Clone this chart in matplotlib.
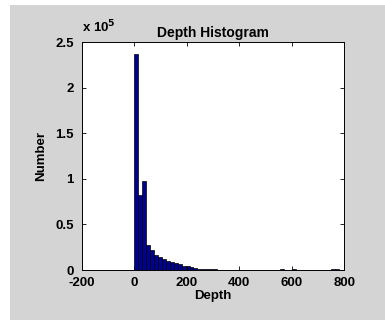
import numpy as np
import matplotlib
matplotlib.use("Agg")
import matplotlib.pyplot as plt
from matplotlib.patches import Rectangle

# histogram data (bin width 15 m)
bin_width = 15
bin_left = np.arange(0, 795, bin_width)
counts = [237000, 82000, 98000, 28000, 22000, 17000, 14000, 12000, 10000, 9000,
          7500, 6500, 5000, 4000, 3000, 2200, 1600, 1200, 900, 700,
          1100, 600, 500, 400, 350, 300, 300, 250, 250, 200,
          200, 200, 200, 200, 250, 300, 400, 900, 500, 400,
          1000, 500, 300, 200, 200, 200, 150, 150, 300, 200,
          700, 800, 300]

plt.rcParams['font.family'] = ['Liberation Sans', 'DejaVu Sans']
plt.rcParams['font.weight'] = 'bold'
plt.rcParams['axes.unicode_minus'] = False

fig = plt.figure(figsize=(3.85, 3.2), dpi=100)
fig.patch.set_facecolor('white')
# grey panel like the matlab figure window
fig.patches.append(Rectangle((0.026, 0.0), 0.974, 0.985, transform=fig.transFigure,
                             facecolor='#d4d4d4', edgecolor='none', zorder=-1))

ax = fig.add_axes([0.213, 0.156, 0.681, 0.7125])
ax.bar(bin_left, counts, width=bin_width, align='edge',
       color='#00008f', edgecolor='black', linewidth=0.5)

ax.set_xlim(-200, 800)
ax.set_ylim(0, 250000)
ax.set_xticks([-200, 0, 200, 400, 600, 800])
ax.set_yticks([0, 50000, 100000, 150000, 200000, 250000])
ax.set_yticklabels(['0', '0.5', '1', '1.5', '2', '2.5'])
ax.tick_params(direction='in', top=True, right=True, labelsize=9.5, length=3, width=0.6)
ax.tick_params(axis='y', pad=6)
ax.tick_params(axis='x', pad=5)
for s in ax.spines.values():
    s.set_linewidth(0.7)

ax.set_title('Depth Histogram', fontsize=10, fontweight='bold', pad=4)
ax.set_xlabel('Depth', fontsize=9.5, fontweight='bold', labelpad=1)
ax.set_ylabel('Number', fontsize=9.5, fontweight='bold', labelpad=6)
ax.text(0.0, 1.03, r'x 10$^5$', transform=ax.transAxes, fontsize=9.5, fontweight='bold',
        ha='left', va='bottom')

fig.savefig('out.png', dpi=100, facecolor=fig.get_facecolor())
